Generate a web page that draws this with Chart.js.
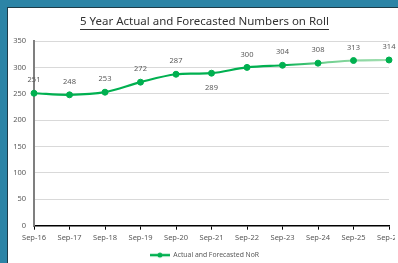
<!DOCTYPE html>
<html>
<head>
<meta charset="utf-8">
<script src="https://cdn.jsdelivr.net/npm/chart.js@4.4.1/dist/chart.umd.min.js"></script>
<style>
  html, body { margin: 0; padding: 0; }
  body { width: 398px; height: 263px; overflow: hidden; position: relative; background: #2C84A6; }
  #panel { position: absolute; left: 7px; top: 7px; width: 400px; height: 260px; background: #fff;
           border-left: 1px solid #1d3b48; border-top: 1px solid #1d3b48; }
  #wrap { position: absolute; left: 0; top: 0; width: 420px; height: 263px; }
</style>
</head>
<body>
<div id="panel"></div>
<div id="wrap"><canvas id="lineChart" width="420" height="263"></canvas></div>
<script>
// chart data
const categories = ['Sep-16', 'Sep-17', 'Sep-18', 'Sep-19', 'Sep-20', 'Sep-21', 'Sep-22', 'Sep-23', 'Sep-24', 'Sep-25', 'Sep-26'];
const norValues = [251, 248, 253, 272, 287, 289, 300, 304, 308, 313, 314];
const seriesName = 'Actual and Forecasted NoR';
const chartTitle = '5 Year Actual and Forecasted Numbers on Roll';
const yTicks = [0, 50, 100, 150, 200, 250, 300, 350];
const labelBelow = [5]; // index of value label drawn under its point

const green = '#00B050';
const fontFamily = '"Noto Sans", sans-serif';

// legend symbol: line with a dot in the middle
const legendIcon = document.createElement('canvas');
legendIcon.width = 20;
legendIcon.height = 8;
(function () {
    const c = legendIcon.getContext('2d');
    c.strokeStyle = green;
    c.lineWidth = 2.5;
    c.beginPath();
    c.moveTo(0, 4);
    c.lineTo(20, 4);
    c.stroke();
    c.fillStyle = green;
    c.beginPath();
    c.arc(10, 4, 2.5, 0, Math.PI * 2);
    c.fill();
})();

// title with underline
const titlePlugin = {
    id: 'underlinedTitle',
    afterDraw(chart) {
        const ctx = chart.ctx;
        ctx.save();
        ctx.font = '11.5px ' + fontFamily;
        ctx.fillStyle = '#333';
        ctx.textAlign = 'center';
        ctx.textBaseline = 'middle';
        const x = 204.5, y = 22;
        ctx.fillText(chartTitle, x, y);
        const w = ctx.measureText(chartTitle).width;
        ctx.strokeStyle = '#333';
        ctx.lineWidth = 1;
        ctx.beginPath();
        ctx.moveTo(x - w / 2, y + 7.5);
        ctx.lineTo(x + w / 2, y + 7.5);
        ctx.stroke();
        // the chart box cuts off the last x label
        ctx.fillStyle = '#fff';
        ctx.fillRect(395, chart.chartArea.bottom + 5, 40, 14);
        ctx.restore();
    }
};

// legend sits a little lower and to the right, like the original
const legendShift = {
    id: 'legendShift',
    afterLayout(chart) {
        const lg = chart.legend;
        if (!lg) return;
        lg.left += 10; lg.right += 10;
        lg.top += 8; lg.bottom += 8;
    }
};

// value labels next to the points
const valueLabels = {
    id: 'valueLabels',
    afterDatasetsDraw(chart) {
        const ctx = chart.ctx;
        const meta = chart.getDatasetMeta(0);
        ctx.save();
        ctx.font = '7.5px ' + fontFamily;
        ctx.fillStyle = '#595959';
        ctx.textAlign = 'center';
        ctx.textBaseline = 'middle';
        meta.data.forEach((pt, i) => {
            const dy = labelBelow.includes(i) ? 15 : -13;
            ctx.fillText(String(norValues[i]), pt.x, pt.y + dy);
        });
        ctx.restore();
    }
};

// forecast part of the line fades lighter
function lineColour(context) {
    const chart = context.chart;
    if (!chart.chartArea) return green;
    const xs = chart.scales.x;
    const x0 = xs.getPixelForValue(7);
    const x1 = xs.getPixelForValue(10);
    const g = chart.ctx.createLinearGradient(x0, 0, x1, 0);
    g.addColorStop(0, green);
    g.addColorStop(0.4, '#6fcf8e');
    g.addColorStop(1, '#a6dfb4');
    return g;
}

new Chart(document.getElementById('lineChart'), {
    type: 'line',
    data: {
        labels: categories,
        datasets: [{
            label: seriesName,
            data: norValues,
            borderColor: lineColour,
            borderWidth: 2.2,
            backgroundColor: green,
            pointBackgroundColor: green,
            pointBorderColor: green,
            pointBorderWidth: 1,
            pointRadius: 3,
            tension: 0.35,
            fill: false
        }]
    },
    options: {
        responsive: false,
        animation: false,
        layout: { padding: { top: 41, left: 0, right: 31, bottom: 2.5 } },
        plugins: {
            legend: {
                position: 'bottom',
                labels: {
                    usePointStyle: true,
                    pointStyleWidth: 20,
                    padding: 2,
                    color: '#595959',
                    font: { family: fontFamily, size: 6.8 },
                    generateLabels(chart) {
                        return [{
                            text: seriesName,
                            pointStyle: legendIcon,
                            fillStyle: green,
                            strokeStyle: green,
                            lineWidth: 0,
                            fontColor: '#595959',
                            datasetIndex: 0
                        }];
                    }
                }
            },
            tooltip: { enabled: false }
        },
        scales: {
            x: {
                offset: false,
                afterFit(s) { s.height = 16; },
                grid: { display: true, drawOnChartArea: false, drawTicks: true, tickLength: 4, color: '#000' },
                border: { color: '#000', width: 1.5 },
                ticks: {
                    autoSkip: false, maxRotation: 0, padding: 4,
                    color: '#595959', font: { family: fontFamily, size: 7.5 }
                }
            },
            y: {
                min: 0,
                max: 350,
                afterFit(s) { s.width = 34; },
                afterBuildTicks(s) { s.ticks = yTicks.map(v => ({ value: v })); },
                grid: { color: '#d9d9d9', lineWidth: 1, drawTicks: false },
                border: { color: '#7f7f7f', width: 2 },
                ticks: { padding: 8, color: '#595959', font: { family: fontFamily, size: 7.5 } }
            }
        }
    },
    plugins: [titlePlugin, legendShift, valueLabels]
});
</script>
</body>
</html>
